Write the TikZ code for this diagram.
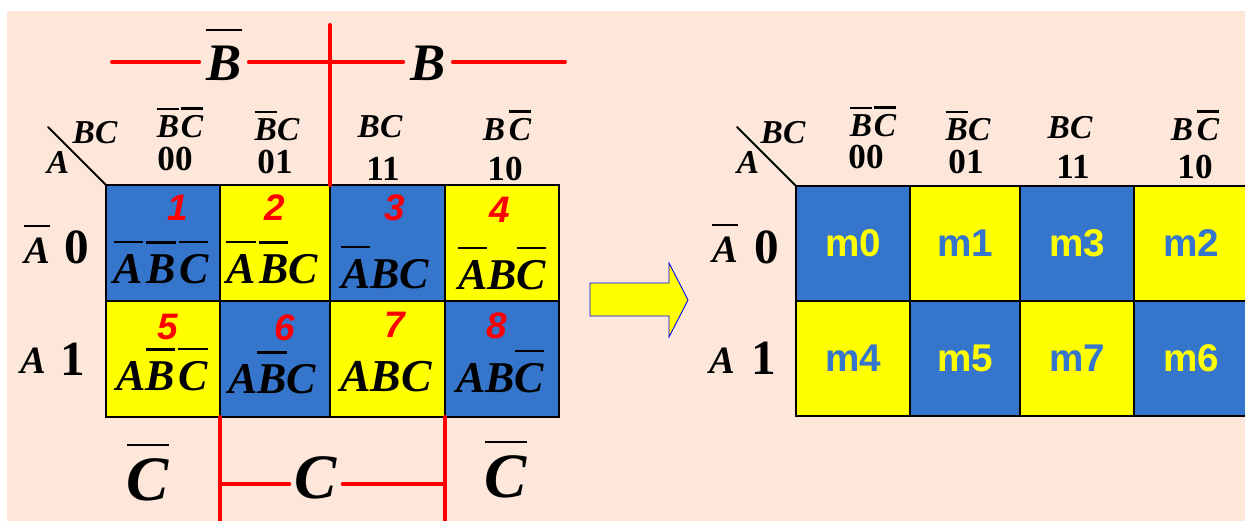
\documentclass[tikz,border=0pt]{standalone}
\usepackage{fontspec}
\setmainfont{Liberation Serif}
\setsansfont{Liberation Sans}

\definecolor{bgpeach}{RGB}{252,231,218}
\definecolor{kblue}{RGB}{53,117,204}
\definecolor{kyellow}{RGB}{255,255,0}
\definecolor{kred}{RGB}{255,0,0}

% overlined letter: gap above the letter, rule thickness
\newcommand{\ov}[2][5pt]{\vbox{\hrule height 1.3pt\kern#1\hbox{#2}}}

\begin{document}
\begin{tikzpicture}
    [x=0.02cm, y=-0.02cm,
    line cap=round,
    every node/.style={inner sep=0pt},
    term/.style={font=\fontsize{25}{25}\selectfont\bfseries\itshape, anchor=base},
    num/.style={font=\sffamily\fontsize{21}{21}\selectfont\bfseries\itshape, text=kred},
    head/.style={font=\fontsize{19}{19}\selectfont\bfseries\itshape, anchor=base},
    code/.style={font=\fontsize{20}{20}\selectfont\bfseries, anchor=base},
    rowvar/.style={font=\fontsize{22}{22}\selectfont\bfseries\itshape, anchor=base},
    rowbit/.style={font=\fontsize{28}{28}\selectfont\bfseries, anchor=base},
    mterm/.style={font=\sffamily\fontsize{22}{22}\selectfont\bfseries},
    biglabel/.style={font=\fontsize{30}{30}\selectfont\bfseries\itshape, anchor=base, inner sep=4pt},
    bracket/.style={kred, line width=2.3pt},
    gridline/.style={black, line width=1.1pt}]

    \useasboundingbox (0,0) rectangle (1245,521);
    \fill[bgpeach] (7,11) rectangle (1245,521);

    % Karnaugh map, left
    \foreach \x/\xx/\c/\d in {106/220/kblue/kyellow, 220/330/kyellow/kblue,
                              330/445/kblue/kyellow, 445/559/kyellow/kblue} {
        \fill[\c] (\x,185) rectangle (\xx,301);
        \fill[\d] (\x,301) rectangle (\xx,417);
    }
    \draw[gridline] (106,185) rectangle (559,417);
    \draw[gridline] (106,301) -- (559,301);
    \foreach \x in {220,330,445}
        \draw[gridline] (\x,185) -- (\x,417);
    \draw[gridline] (48,127) -- (106,185);

    \node[head] (lbc) at (95,143) {BC};
    \node[head] (la)  at (58,173) {A};

    \node[head] (lh0) at (180,137) {\ov[3pt]{B}\kern1pt\ov[3pt]{C}};
    \node[head] (lh1) at (277,140) {\ov[3pt]{B}C};
    \node[head] (lh2) at (380,137) {BC};
    \node[head] (lh3) at (507,140) {B\kern2pt\ov[3pt]{C}};
    \node[code] (lc0) at (175,170) {00};
    \node[code] (lc1) at (275,173) {01};
    \node[code] (lc2) at (383,180) {11};
    \node[code] (lc3) at (505,180) {10};

    \node[rowvar] (lr0) at (37,263) {\ov[6pt]{A}};
    \node[rowbit] (lb0) at (77,263) {0};
    \node[rowvar] (lr1) at (33,373) {A};
    \node[rowbit] (lb1) at (73,375) {1};

    \node[num] (n1) at (178,208) {1};
    \node[num] (n2) at (275,208) {2};
    \node[num] (n3) at (395,208) {3};
    \node[num] (n4) at (500,210) {4};
    \node[num] (n5) at (168,327) {5};
    \node[num] (n6) at (285,328) {6};
    \node[num] (n7) at (395,325) {7};
    \node[num] (n8) at (497,326) {8};

    \node[term] (t1) at (161,283) {\ov[6pt]{A}\kern2pt\ov[6pt]{B}\kern2pt\ov[6pt]{C}};
    \node[term] (t2) at (272,283) {\ov[6pt]{A}\kern2pt\ov[6pt]{B}C};
    \node[term] (t3) at (385,288) {\ov[6pt]{A}BC};
    \node[term] (t4) at (502,289) {\ov[6pt]{A}B\ov[6pt]{C}};
    \node[term] (t5) at (162,390) {A\ov[6pt]{B}\kern2pt\ov[6pt]{C}};
    \node[term] (t6) at (272,393) {A\ov[6pt]{B}C};
    \node[term, font=\fontsize{26}{26}\selectfont\bfseries\itshape] (t7) at (386,391) {ABC};
    \node[term] (t8) at (500,392) {AB\ov[6pt]{C}};

    % Bereiche B und C
    \node[biglabel] (bnot) at (224,80) {\ov[8pt]{B}};
    \node[biglabel] (bvar) at (428,80) {B};
    \coordinate (topL) at (112,62);
    \coordinate (topR) at (565,62);
    \coordinate (topM) at (330,25);
    \draw[bracket] (topL) -- (topL -| bnot.west);
    \draw[bracket] (topL -| bnot.east) -- (topL -| bvar.west);
    \draw[bracket] (topL -| bvar.east) -- (topR);
    \draw[bracket] (topM) -- (330,185);

    \node[biglabel, font=\fontsize{36}{36}\selectfont\bfseries\itshape] (cnotl) at (148,500) {\ov[7pt]{C}};
    \node[biglabel, font=\fontsize{36}{36}\selectfont\bfseries\itshape, inner sep=3pt] (cvar) at (316,498) {C};
    \node[biglabel, font=\fontsize{36}{36}\selectfont\bfseries\itshape] (cnotr) at (506,497) {\ov[7pt]{C}};
    \coordinate (botL) at (220,484);
    \coordinate (botR) at (445,484);
    \draw[bracket] (220,417) -- (220,521);
    \draw[bracket] (445,417) -- (445,521);
    \draw[bracket] (botL) -- (botL -| cvar.west);
    \draw[bracket] (botR -| cvar.east) -- (botR);

    % Pfeil
    \filldraw[fill=kyellow, draw=blue, line width=0.5pt, line join=miter]
        (590,283) -- (669,283) -- (669,263) -- (688,300)
        -- (669,337) -- (669,316) -- (590,316) -- cycle;

    % Karnaugh map, right
    \foreach \x/\xx/\c/\d in {796/910/kblue/kyellow, 910/1020/kyellow/kblue,
                              1020/1134/kblue/kyellow, 1134/1248/kyellow/kblue} {
        \fill[\c] (\x,186) rectangle (\xx,301);
        \fill[\d] (\x,301) rectangle (\xx,416);
    }
    \draw[gridline] (1248,186) -- (796,186) -- (796,416) -- (1248,416);
    \draw[gridline] (796,301) -- (1248,301);
    \foreach \x in {910,1020,1134}
        \draw[gridline] (\x,186) -- (\x,416);
    \draw[gridline] (737,127) -- (796,186);

    \node[head] (rbc) at (783,143) {BC};
    \node[head] (ra)  at (748,173) {A};

    \node[head] (rh0) at (873,136) {\ov[3pt]{B}\kern1pt\ov[3pt]{C}};
    \node[head] (rh1) at (968,140) {\ov[3pt]{B}C};
    \node[head] (rh2) at (1070,138) {BC};
    \node[head] (rh3) at (1195,140) {B\kern2pt\ov[3pt]{C}};
    \node[code] (rc0) at (866,168) {00};
    \node[code] (rc1) at (966,173) {01};
    \node[code] (rc2) at (1073,178) {11};
    \node[code] (rc3) at (1195,178) {10};

    \node[rowvar] (rr0) at (725,262) {\ov[6pt]{A}};
    \node[rowbit] (rb0) at (767,263) {0};
    \node[rowvar] (rr1) at (722,373) {A};
    \node[rowbit] (rb1) at (764,374) {1};

    \node[mterm, text=kyellow] (m0) at (853,243) {m0};
    \node[mterm, text=kblue]   (m1) at (965,243) {m1};
    \node[mterm, text=kyellow] (m3) at (1077,243) {m3};
    \node[mterm, text=kblue]   (m2) at (1191,243) {m2};
    \node[mterm, text=kblue]   (m4) at (853,358) {m4};
    \node[mterm, text=kyellow] (m5) at (965,358) {m5};
    \node[mterm, text=kblue]   (m7) at (1077,358) {m7};
    \node[mterm, text=kyellow] (m6) at (1191,358) {m6};
\end{tikzpicture}
\end{document}
